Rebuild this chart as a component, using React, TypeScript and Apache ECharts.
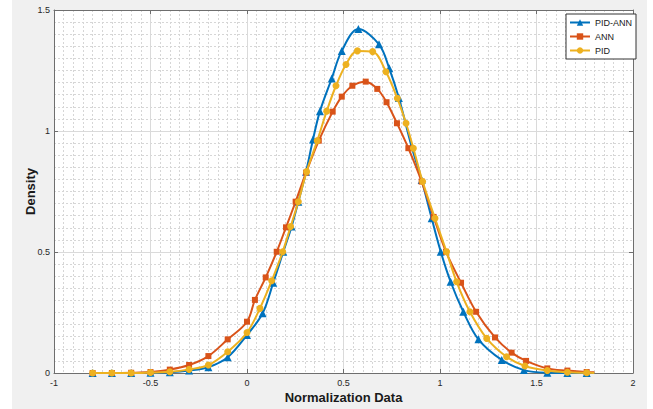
import React, { useEffect, useRef } from "react";
import * as echarts from "echarts";

const xTicks = [-1, -0.5, 0, 0.5, 1, 1.5, 2];
const yTicks = [0, 0.5, 1, 1.5];
const seriesNames = ["PID-ANN", "ANN", "PID"];

const pidAnn: [number, number][] = [
  [-0.8, 0], [-0.7, 0], [-0.6, 0], [-0.5, 0.001], [-0.4, 0.003], [-0.3, 0.01],
  [-0.2, 0.024], [-0.1, 0.065], [0.0, 0.157], [0.081, 0.247], [0.136, 0.373],
  [0.188, 0.501], [0.231, 0.605], [0.266, 0.708], [0.306, 0.832], [0.342, 0.965],
  [0.378, 1.082], [0.439, 1.217], [0.491, 1.331], [0.577, 1.421], [0.684, 1.358],
  [0.737, 1.259], [0.787, 1.136], [0.853, 0.935], [0.905, 0.798], [0.957, 0.639],
  [1.004, 0.501], [1.055, 0.377], [1.121, 0.253], [1.199, 0.139], [1.32, 0.054],
  [1.435, 0.012], [1.556, 0.001], [1.66, 0], [1.76, 0], [1.8, 0],
];

const ann: [number, number][] = [
  [-0.8, 0], [-0.7, 0], [-0.6, 0.001], [-0.5, 0.004], [-0.4, 0.014], [-0.3, 0.033],
  [-0.2, 0.07], [-0.1, 0.139], [0.0, 0.212], [0.041, 0.302], [0.097, 0.395],
  [0.154, 0.501], [0.202, 0.602], [0.252, 0.708], [0.306, 0.828], [0.372, 0.96],
  [0.444, 1.08], [0.491, 1.142], [0.546, 1.187], [0.615, 1.204], [0.675, 1.174],
  [0.723, 1.119], [0.777, 1.032], [0.836, 0.929], [0.905, 0.791], [0.967, 0.645],
  [1.031, 0.501], [1.109, 0.373], [1.187, 0.253], [1.285, 0.147], [1.371, 0.084],
  [1.446, 0.05], [1.556, 0.019], [1.66, 0.01], [1.76, 0.004], [1.8, 0.003],
];

const pid: [number, number][] = [
  [-0.8, 0], [-0.7, 0], [-0.6, 0], [-0.5, 0.002], [-0.4, 0.005], [-0.3, 0.015],
  [-0.2, 0.033], [-0.1, 0.088], [0.0, 0.167], [0.067, 0.267], [0.128, 0.381],
  [0.185, 0.501], [0.226, 0.605], [0.266, 0.708], [0.309, 0.832], [0.364, 0.96],
  [0.413, 1.082], [0.461, 1.187], [0.513, 1.275], [0.572, 1.331], [0.651, 1.328],
  [0.72, 1.245], [0.779, 1.135], [0.824, 1.032], [0.862, 0.929], [0.91, 0.791],
  [0.974, 0.639], [1.034, 0.501], [1.086, 0.377], [1.155, 0.253], [1.242, 0.143],
  [1.345, 0.067], [1.44, 0.029], [1.556, 0.01], [1.66, 0.003], [1.76, 0.001], [1.8, 0],
];

const FONT = "Liberation Sans, Arial, Helvetica, sans-serif";
const AXIS_COLOR = "#6e6e6e";

export default function App() {
  const ref = useRef<HTMLDivElement>(null);

  useEffect(() => {
    if (!ref.current) return;
    const chart = echarts.init(ref.current, undefined, { renderer: "svg" });

    const build = (d: [number, number][]) =>
      d.map((p, i) => (i === d.length - 1 ? { value: p, symbol: "none" } : { value: p }));

    const colors = ["#0072BD", "#D95319", "#EDB120"];
    const symbols = ["triangle", "rect", "circle"];
    const sizes = [8, 6, 7];
    const datasets = [pidAnn, ann, pid];

    const fmt = (v: number) => String(v);

    chart.setOption({
      animation: false,
      textStyle: { fontFamily: FONT },
      grid: {
        left: 54,
        right: 20,
        top: 10,
        bottom: 36,
        show: true,
        backgroundColor: "#ffffff",
        borderWidth: 0,
      },
      legend: {
        data: seriesNames,
        orient: "vertical",
        left: 566,
        top: 14,
        padding: [4, 4, 4, 3],
        itemWidth: 20,
        itemHeight: 8,
        itemGap: 5,
        itemTextGap: 2,
        backgroundColor: "#ffffff",
        borderColor: "#333333",
        borderWidth: 1,
        borderRadius: 0,
        textStyle: { fontSize: 9, color: "#1a1a1a", fontFamily: FONT },
      },
      xAxis: [
        {
          type: "value",
          min: xTicks[0],
          max: xTicks[xTicks.length - 1],
          interval: 0.5,
          name: "Normalization Data",
          nameLocation: "middle",
          nameGap: 18,
          nameMoveOverlap: false,
          nameTextStyle: { fontSize: 13, fontWeight: "bold", color: "#1a1a1a", fontFamily: FONT },
          axisLine: { show: true, onZero: false, lineStyle: { color: AXIS_COLOR, width: 1 } },
          axisTick: { show: true, inside: true, length: 4, lineStyle: { color: AXIS_COLOR } },
          axisLabel: { fontSize: 9, color: "#262626", margin: 5, formatter: fmt },
          splitLine: { show: true, lineStyle: { color: "#dadada", width: 1 } },
          minorTick: { show: false, splitNumber: 10 },
          minorSplitLine: { show: true, lineStyle: { color: "#d6d6d6", type: [2, 2], width: 1 } },
        },
        {
          type: "value",
          position: "top",
          min: xTicks[0],
          max: xTicks[xTicks.length - 1],
          interval: 0.5,
          axisLine: { show: true, onZero: false, lineStyle: { color: AXIS_COLOR, width: 1 } },
          axisTick: { show: true, inside: true, length: 4, lineStyle: { color: AXIS_COLOR } },
          axisLabel: { show: false },
          splitLine: { show: false },
        },
      ],
      yAxis: [
        {
          type: "value",
          min: yTicks[0],
          max: yTicks[yTicks.length - 1],
          interval: 0.5,
          name: "Density",
          nameLocation: "middle",
          nameGap: 17,
          nameMoveOverlap: false,
          nameTextStyle: { fontSize: 13, fontWeight: "bold", color: "#1a1a1a", fontFamily: FONT },
          axisLine: { show: true, onZero: false, lineStyle: { color: AXIS_COLOR, width: 1 } },
          axisTick: { show: true, inside: true, length: 4, lineStyle: { color: AXIS_COLOR } },
          axisLabel: { fontSize: 9, color: "#262626", margin: 4, formatter: fmt },
          splitLine: { show: true, lineStyle: { color: "#dadada", width: 1 } },
          minorTick: { show: false, splitNumber: 10 },
          minorSplitLine: { show: true, lineStyle: { color: "#d6d6d6", type: [2, 2], width: 1 } },
        },
        {
          type: "value",
          position: "right",
          min: yTicks[0],
          max: yTicks[yTicks.length - 1],
          interval: 0.5,
          axisLine: { show: true, onZero: false, lineStyle: { color: AXIS_COLOR, width: 1 } },
          axisTick: { show: true, inside: true, length: 4, lineStyle: { color: AXIS_COLOR } },
          axisLabel: { show: false },
          splitLine: { show: false },
        },
      ],
      series: datasets.map((d, i) => ({
        name: seriesNames[i],
        type: "line",
        xAxisIndex: 0,
        yAxisIndex: 0,
        data: build(d),
        smooth: 0.35,
        symbol: symbols[i],
        symbolSize: sizes[i],
        showSymbol: true,
        color: colors[i],
        lineStyle: { color: colors[i], width: 2 },
        itemStyle: { color: colors[i] },
        z: 2 + i,
      })),
    });

    return () => chart.dispose();
  }, []);

  return (
    <div style={{ position: "fixed", left: 0, top: 0, width: 653, height: 409, background: "#ffffff" }}>
      <div style={{ position: "absolute", left: 12, top: 0, width: 635, height: 409, background: "#f0f0f0" }} />
      <div ref={ref} style={{ position: "absolute", left: 0, top: 0, width: 653, height: 409 }} />
    </div>
  );
}
